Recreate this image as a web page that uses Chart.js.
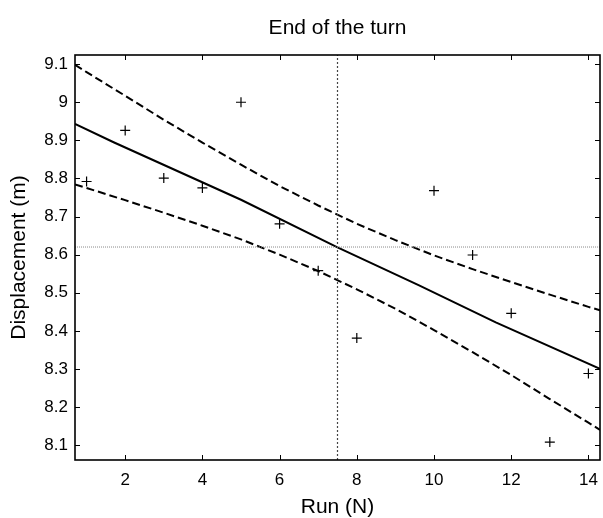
<!DOCTYPE html>
<html>
<head>
<meta charset="utf-8">
<script src="https://cdn.jsdelivr.net/npm/chart.js@4/dist/chart.umd.min.js"></script>
<style>
  html, body { margin: 0; padding: 0; background: #ffffff; }
  #wrap { width: 603px; height: 518px; }
</style>
</head>
<body>
<div id="wrap"><canvas id="c" width="603" height="518"></canvas></div>
<script>
// ---- data ----
const runs         = [1, 2, 3, 4, 5, 6, 7, 8, 10, 11, 12, 13, 14];
const displacement = [8.792, 8.926, 8.801, 8.775, 9.000, 8.681, 8.558, 8.381, 8.768, 8.599, 8.446, 8.108, 8.288];

const fitX = [0.7, 1.7, 5.0, 7.5, 9.6, 11.6, 14.3];
const fitY = [8.943, 8.895, 8.744, 8.619, 8.520, 8.422, 8.300];

const bandX     = [0.7, 1, 2, 3, 4, 5, 6, 7, 8, 9, 10, 11, 12, 13, 14, 14.3];
const upperBand = [9.098, 9.079, 9.017, 8.954, 8.894, 8.836, 8.780, 8.729, 8.681, 8.638, 8.598, 8.562, 8.528, 8.495, 8.463, 8.454];
const lowerBand = [8.784, 8.775, 8.743, 8.710, 8.676, 8.640, 8.600, 8.557, 8.509, 8.458, 8.402, 8.344, 8.284, 8.221, 8.159, 8.140];

const meanY = 8.62;
const meanX = 7.5;

const xTicks = [2, 4, 6, 8, 10, 12, 14];
const yTicks = [8.1, 8.2, 8.3, 8.4, 8.5, 8.6, 8.7, 8.8, 8.9, 9.0, 9.1];
const xRange = [0.7, 14.3];
const yRange = [8.061, 9.124];

const FONT = "'Liberation Sans', Arial, Helvetica, sans-serif";

const zip = (xs, ys) => xs.map((x, i) => ({ x: x, y: ys[i] }));

// frame + inward ticks on all four sides
const framePlugin = {
  id: 'frame',
  afterDraw(chart) {
    const { ctx, chartArea: a, scales } = chart;
    ctx.save();
    ctx.strokeStyle = '#000';
    ctx.lineWidth = 1;
    const tl = 5;
    ctx.beginPath();
    scales.x.ticks.forEach(t => {
      const px = Math.round(scales.x.getPixelForValue(t.value)) + 0.5;
      ctx.moveTo(px, a.bottom); ctx.lineTo(px, a.bottom - tl);
      ctx.moveTo(px, a.top); ctx.lineTo(px, a.top + tl);
    });
    scales.y.ticks.forEach(t => {
      const py = Math.round(scales.y.getPixelForValue(t.value)) + 0.5;
      ctx.moveTo(a.left, py); ctx.lineTo(a.left + tl, py);
      ctx.moveTo(a.right, py); ctx.lineTo(a.right - tl, py);
    });
    ctx.stroke();
    ctx.lineWidth = 1.6;
    ctx.strokeRect(a.left, a.top, a.right - a.left, a.bottom - a.top);
    ctx.restore();
  }
};

new Chart(document.getElementById('c'), {
  type: 'scatter',
  data: {
    datasets: [
      { label: 'mean y', data: [{ x: xRange[0], y: meanY }, { x: xRange[1], y: meanY }],
        showLine: true, borderColor: '#8a8a8a', borderWidth: 1, borderDash: [1, 1], pointRadius: 0 },
      { label: 'mean x', data: [{ x: meanX, y: yRange[0] }, { x: meanX, y: yRange[1] }],
        showLine: true, borderColor: '#444444', borderWidth: 1.2, borderDash: [2, 2], pointRadius: 0 },
      { label: 'upper', data: zip(bandX, upperBand), showLine: true,
        borderColor: '#000', borderWidth: 2, borderDash: [8, 4], pointRadius: 0 },
      { label: 'lower', data: zip(bandX, lowerBand), showLine: true,
        borderColor: '#000', borderWidth: 2, borderDash: [8, 4], pointRadius: 0 },
      { label: 'fit', data: zip(fitX, fitY), showLine: true,
        borderColor: '#000', borderWidth: 2, pointRadius: 0 },
      { label: 'data', data: zip(runs, displacement), showLine: false,
        pointStyle: 'cross', pointRadius: 5, borderColor: '#000', borderWidth: 1.2,
        backgroundColor: '#000' }
    ]
  },
  options: {
    responsive: false,
    animation: false,
    devicePixelRatio: 1,
    layout: { autoPadding: false, padding: { left: 0, right: 3, top: 0, bottom: 0 } },
    plugins: {
      legend: { display: false },
      tooltip: { enabled: false },
      title: { display: false }
    },
    scales: {
      x: {
        type: 'linear',
        position: 'bottom',
        min: xRange[0], max: xRange[1],
        afterBuildTicks: s => { s.ticks = xTicks.map(v => ({ value: v })); },
        afterFit: s => { s.height = 58; s.paddingLeft = 0; s.paddingRight = 0; },
        grid: { display: false, drawTicks: false },
        border: { display: false },
        ticks: { color: '#000', padding: 10, maxRotation: 0, autoSkip: false,
                 font: { family: FONT, size: 17 }, callback: v => String(v) },
        title: { display: true, text: 'Run (N)', color: '#000',
                 font: { family: FONT, size: 21, lineHeight: 1 }, padding: { top: 0, bottom: 0 } }
      },
      xTop: {
        type: 'linear',
        position: 'top',
        min: xRange[0], max: xRange[1],
        afterBuildTicks: s => { s.ticks = []; },
        afterFit: s => { s.height = 55; s.paddingLeft = 0; s.paddingRight = 0; },
        grid: { display: false, drawTicks: false },
        border: { display: false },
        ticks: { display: false },
        title: { display: true, text: 'End of the turn', color: '#000',
                 font: { family: FONT, size: 21, lineHeight: 1.2 }, padding: { top: 16, bottom: 0 } }
      },
      y: {
        type: 'linear',
        min: yRange[0], max: yRange[1],
        afterBuildTicks: s => { s.ticks = yTicks.map(v => ({ value: v })); },
        afterFit: s => { s.width = 75; s.paddingTop = 0; s.paddingBottom = 0; },
        grid: { display: false, drawTicks: false },
        border: { display: false },
        ticks: { color: '#000', padding: 7, autoSkip: false,
                 font: { family: FONT, size: 17 },
                 callback: v => String(Number(v.toFixed(1))) },
        title: { display: true, text: 'Displacement (m)', color: '#000',
                 font: { family: FONT, size: 21, lineHeight: 1.2 }, padding: { top: 7, bottom: 0 } }
      }
    }
  },
  plugins: [framePlugin]
});
</script>
</body>
</html>
